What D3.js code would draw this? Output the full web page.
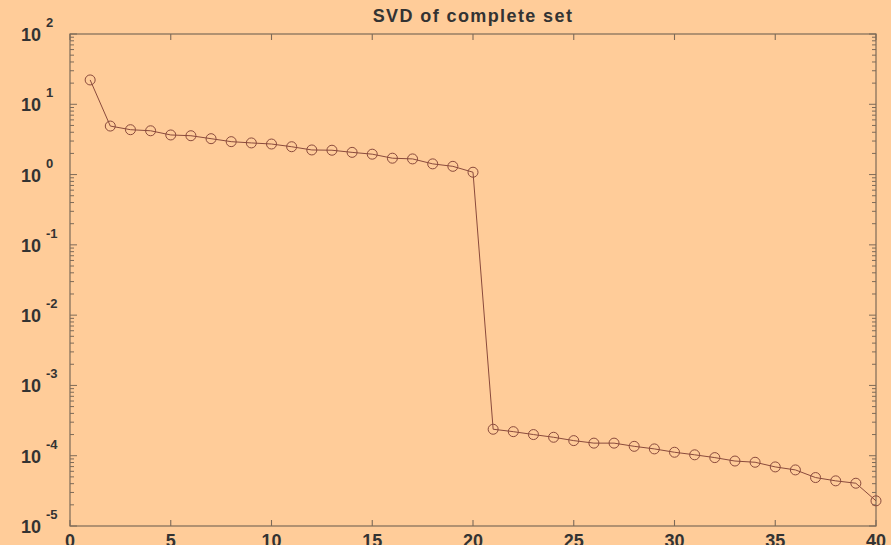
<!DOCTYPE html>
<html>
<head>
<meta charset="utf-8">
<script src="https://cdn.jsdelivr.net/npm/d3@7/dist/d3.min.js"></script>
<style>
  html, body { margin: 0; padding: 0; background: #FFCC99; }
  svg { display: block; }
  text { font-family: "Liberation Sans", Arial, Helvetica, sans-serif; fill: #333; }
</style>
</head>
<body>
<script>
// Singular value spectrum of the complete set (index vs. singular value, log scale)
const componentIndex = [1, 2, 3, 4, 5, 6, 7, 8, 9, 10,
                        11, 12, 13, 14, 15, 16, 17, 18, 19, 20,
                        21, 22, 23, 24, 25, 26, 27, 28, 29, 30,
                        31, 32, 33, 34, 35, 36, 37, 38, 39, 40];
const singularValues = [22.2, 4.9, 4.35, 4.2, 3.66, 3.57, 3.24, 2.94, 2.82, 2.72,
                        2.49, 2.24, 2.22, 2.07, 1.95, 1.71, 1.67, 1.42, 1.31, 1.08,
                        2.38e-4, 2.2e-4, 2.0e-4, 1.83e-4, 1.64e-4, 1.51e-4, 1.51e-4, 1.36e-4, 1.25e-4, 1.12e-4,
                        1.03e-4, 9.4e-5, 8.4e-5, 8.07e-5, 6.93e-5, 6.28e-5, 4.89e-5, 4.39e-5, 4.06e-5, 2.28e-5];
const xTickValues = [0, 5, 10, 15, 20, 25, 30, 35, 40];
const yExponents = [-5, -4, -3, -2, -1, 0, 1, 2];
const titleText = "SVD of complete set";

const W = 891, H = 545;
const margin = {left: 70, right: 15, top: 34, bottom: 19};
const axisColor = "#7d6a58";
const lineColor = "#8a4a3c";

const svg = d3.select("body").append("svg").attr("width", W).attr("height", H);
svg.append("rect").attr("width", W).attr("height", H).attr("fill", "#FFCC99");

const x = d3.scaleLinear().domain([0, 40]).range([margin.left, W - margin.right]);
const y = d3.scaleLog().domain([1e-5, 1e2]).range([H - margin.bottom, margin.top]);

const x0 = x.range()[0], x1 = x.range()[1];
const yb = y.range()[0], yt = y.range()[1];

// log minor ticks: 2..9 within every decade
const yMajor = yExponents.map(e => Math.pow(10, e));
const yMinor = [];
yExponents.slice(0, -1).forEach(e => {
  for (let k = 2; k <= 9; k++) yMinor.push(k * Math.pow(10, e));
});

const g = svg.append("g");

// axes box
g.append("rect")
  .attr("x", x0).attr("y", yt)
  .attr("width", x1 - x0).attr("height", yb - yt)
  .attr("fill", "none").attr("stroke", axisColor).attr("stroke-width", 1.2);

// x ticks, inward on bottom and top
const majorLen = 7, minorLen = 4;
xTickValues.forEach(v => {
  g.append("line").attr("x1", x(v)).attr("x2", x(v)).attr("y1", yb).attr("y2", yb - 6)
    .attr("stroke", axisColor).attr("stroke-width", 1.1);
  g.append("line").attr("x1", x(v)).attr("x2", x(v)).attr("y1", yt).attr("y2", yt + 6)
    .attr("stroke", axisColor).attr("stroke-width", 1.1);
});

// y ticks, inward on left and right
[[yMajor, majorLen], [yMinor, minorLen]].forEach(([vals, len]) => {
  vals.forEach(v => {
    g.append("line").attr("x1", x0).attr("x2", x0 + len).attr("y1", y(v)).attr("y2", y(v))
      .attr("stroke", axisColor).attr("stroke-width", 1);
    g.append("line").attr("x1", x1).attr("x2", x1 - len).attr("y1", y(v)).attr("y2", y(v))
      .attr("stroke", axisColor).attr("stroke-width", 1);
  });
});

// x tick labels
g.selectAll("text.xl").data(xTickValues).enter().append("text")
  .attr("class", "xl")
  .attr("x", d => x(d)).attr("y", yb + 21)
  .attr("text-anchor", "middle")
  .attr("font-size", 18).attr("font-weight", "bold")
  .text(d => d);

// y tick labels as 10 with superscript exponent
yExponents.forEach(e => {
  const yy = y(Math.pow(10, e));
  g.append("text").attr("x", 21).attr("y", yy + 7)
    .attr("font-size", 18).attr("font-weight", "bold").text("10");
  g.append("text").attr("x", 46).attr("y", yy - 7)
    .attr("font-size", 13).attr("font-weight", "bold").text(e);
});

// title
svg.append("text")
  .attr("x", (x0 + x1) / 2).attr("y", 22)
  .attr("text-anchor", "middle")
  .attr("font-size", 18).attr("font-weight", "bold")
  .attr("letter-spacing", 1.4)
  .text(titleText);

// data line and circle markers
const pts = componentIndex.map((k, i) => [k, singularValues[i]]);
const line = d3.line().x(d => x(d[0])).y(d => y(d[1]));
g.append("path").datum(pts).attr("d", line)
  .attr("fill", "none").attr("stroke", lineColor).attr("stroke-width", 1);
g.selectAll("circle.m").data(pts).enter().append("circle")
  .attr("class", "m")
  .attr("cx", d => x(d[0])).attr("cy", d => y(d[1])).attr("r", 5)
  .attr("fill", "none").attr("stroke", lineColor).attr("stroke-width", 1);
</script>
</body>
</html>
